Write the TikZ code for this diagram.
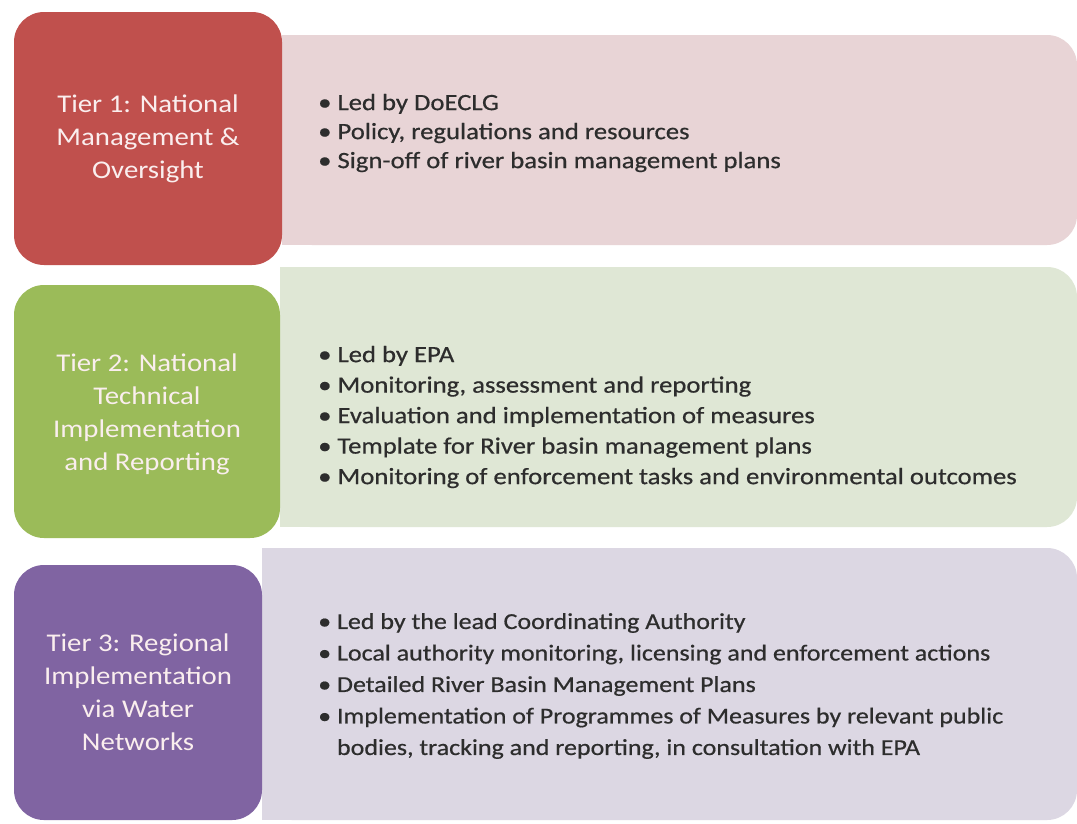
\documentclass[tikz,border=0pt]{standalone}
\usepackage{fontspec}
\setmainfont{Carlito}
\newfontfamily\tierfont{Carlito}[FakeStretch=1.13]
\newfontfamily\bodyfont{Carlito}[FakeStretch=1.14, FakeBold=0.6]
\definecolor{redtier}{RGB}{192,80,77}
\definecolor{redpanel}{RGB}{232,212,214}
\definecolor{greentier}{RGB}{155,187,89}
\definecolor{greenpanel}{RGB}{223,231,213}
\definecolor{purpletier}{RGB}{128,100,162}
\definecolor{purplepanel}{RGB}{220,215,227}
\definecolor{bodytext}{RGB}{45,45,45}
\definecolor{tiertext}{RGB}{250,238,238}
\begin{document}
\begin{tikzpicture}[x=1pt,y=-1pt,
  tierbox/.style={rounded corners=30pt, inner sep=0pt, text=tiertext, align=center,
    font=\tierfont\fontsize{25.5}{33}\selectfont},
  panel/.style={rounded corners=30pt},
  itemlist/.style={anchor=west, inner sep=0pt, align=left, text=bodytext,
    font=\bodyfont\fontsize{23.4}{30.5}\selectfont}
]
\useasboundingbox (0,0) rectangle (1077,823);
\fill[white] (0,0) rectangle (1077,823);

% light panels: rounded on the right, square on the left
\fill[redpanel, panel] (282,35) rectangle (1077,245);
\fill[redpanel] (282,35) rectangle (340,245);
\fill[greenpanel, panel] (280,267) rectangle (1077,527);
\fill[greenpanel] (280,267) rectangle (340,527);
\fill[purplepanel, panel] (262,548) rectangle (1077,820);
\fill[purplepanel] (262,548) rectangle (340,820);

% tier boxes
\path[fill=redtier, tierbox] (14,12) rectangle (282,265);
\node[tierbox] (t1) at (148,139) {Tier 1: National\\Management \&\\Oversight};
\path[fill=greentier, tierbox] (14,285) rectangle (280,538);
\node[tierbox] (t2) at (147,414) {Tier 2: National\\Technical\\Implementation\\and Reporting};
\path[fill=purpletier, tierbox] (14,565) rectangle (262,820);
\node[tierbox] (t3) at (138,692) {Tier 3: Regional\\Implementation\\via Water\\Networks};

% bullet lists
\node[itemlist, font=\bodyfont\fontsize{23.4}{29}\selectfont] (l1) at (318,133) {\textbullet\ Led by DoECLG\\
\textbullet\ Policy, regulations and resources\\
\textbullet\ Sign-off of river basin management plans};
\node[itemlist] (l2) at (318,417) {\textbullet\ Led by EPA\\
\textbullet\ Monitoring, assessment and reporting\\
\textbullet\ Evaluation and implementation of measures\\
\textbullet\ Template for River basin management plans\\
\textbullet\ Monitoring of enforcement tasks and environmental outcomes};
\node[itemlist, font=\bodyfont\fontsize{22.8}{31.5}\selectfont] (l3) at (318,686) {\textbullet\ Led by the lead Coordinating Authority\\
\textbullet\ Local authority monitoring, licensing and enforcement actions\\
\textbullet\ Detailed River Basin Management Plans\\
\textbullet\ Implementation of Programmes of Measures by relevant public\\
\phantom{\textbullet\ }bodies, tracking and reporting, in consultation with EPA};
\end{tikzpicture}
\end{document}
